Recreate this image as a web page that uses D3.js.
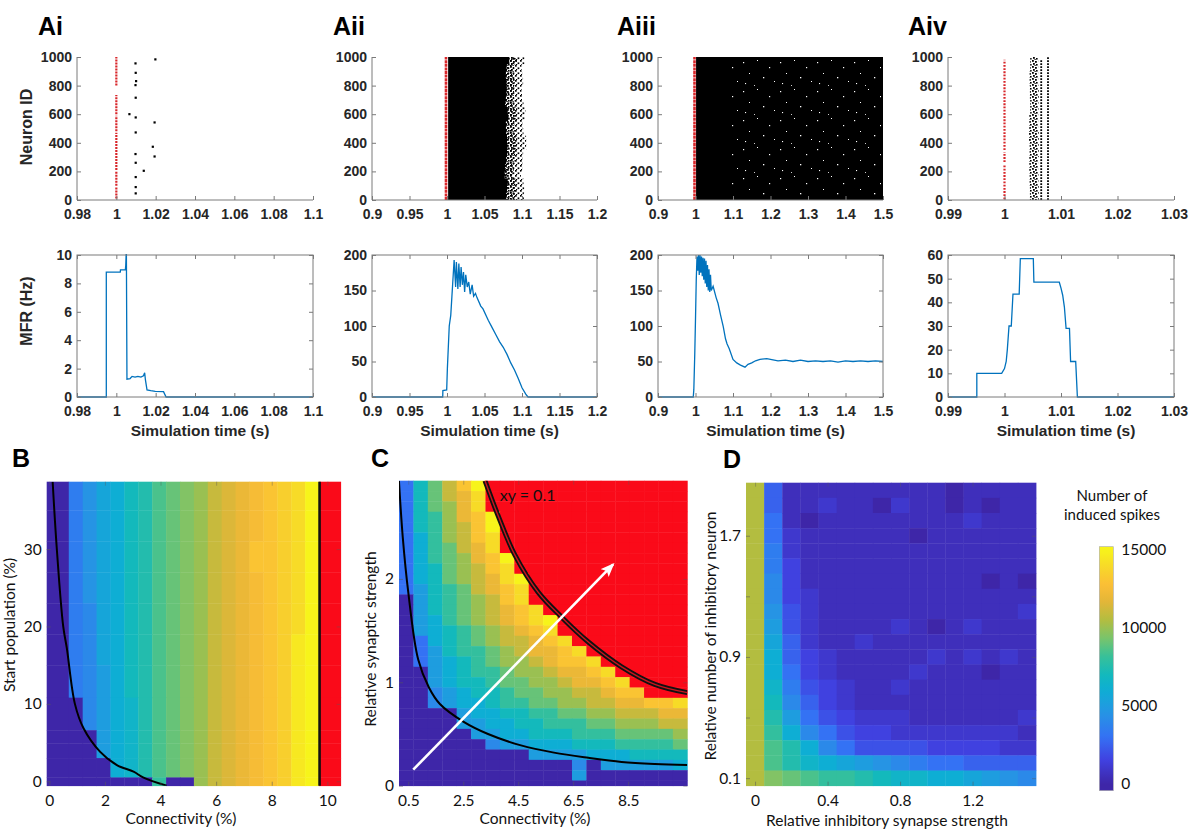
<!DOCTYPE html>
<html>
<head>
<meta charset="utf-8">
<script src="https://cdn.jsdelivr.net/npm/d3@7"></script>
<style>
  body { margin: 0; background: #fff; }
  svg { font-family: "Liberation Sans", Arial, sans-serif; }
  .tk { font-weight: bold; font-size: 14px; fill: #262626; }
  .lbl { font-weight: bold; font-size: 16px; fill: #262626; }
  .xlbl { font-weight: bold; font-size: 15.5px; fill: #262626; }
  .panel { font-weight: bold; font-size: 25px; fill: #000; }
  .hm { font-family: Lato, "Open Sans", sans-serif; font-size: 15.5px; fill: #111; }
</style>
</head>
<body>
<div id="fig"></div>
<script>
// 1: DATA
// --- row A: raster + mean firing rate
const neuronTicks = [0, 200, 400, 600, 800, 1000];
const aiTicks = [0.98, 1, 1.02, 1.04, 1.06, 1.08, 1.1];
const aiiTicks = [0.9, 0.95, 1, 1.05, 1.1, 1.15, 1.2];
const aiiiTicks = [0.9, 1, 1.1, 1.2, 1.3, 1.4, 1.5];
const aivTicks = [0.99, 1, 1.01, 1.02, 1.03];

// stimulated (start) neurons, as neuron ID ranges at t = 1 s
const aiRed = [[10, 90], [100, 200], [210, 470], [480, 590], [600, 735], [800, 1000]];
const aiiRed = [[0, 1000]];
const aiiiRed = [[0, 1000]];
const aivRed = [[5, 250], [265, 335], [350, 980]];

// Ai: induced spikes [time, neuron]
const aiSpikes = [[1.0097, 956], [1.0198, 984], [1.0098, 890], [1.0100, 832], [1.0097, 804],
  [1.0098, 716], [1.0066, 601], [1.0098, 578], [1.0194, 543], [1.0098, 473], [1.0185, 373],
  [1.0097, 322], [1.0194, 305], [1.0098, 261], [1.0139, 205], [1.0098, 161], [1.0098, 91], [1.0098, 47]];

// Aii: dense burst, right edge profile [neuron, end of solid block, end of scattered spikes]
const aiiEdge = [[0, 1.081, 1.104], [50, 1.077, 1.101], [100, 1.083, 1.105], [150, 1.079, 1.099],
  [200, 1.075, 1.098], [250, 1.080, 1.103], [300, 1.078, 1.099], [350, 1.082, 1.104],
  [400, 1.079, 1.107], [450, 1.081, 1.104], [500, 1.077, 1.100], [550, 1.080, 1.102],
  [600, 1.083, 1.106], [650, 1.079, 1.103], [700, 1.076, 1.101], [750, 1.081, 1.099],
  [800, 1.078, 1.100], [850, 1.080, 1.103], [900, 1.077, 1.098], [950, 1.082, 1.101], [1000, 1.084, 1.106]];
const aiiStart = 1.0015;
// Aiii: sustained activity block [t start, t end], start of the speckled part
const aiiiBlock = [1.0015, 1.5];
const aiiiSpeckleFrom = 1.09;
// Aiv: scattered zone [neuron, t from, t to] and two spike columns [t, neuron from, neuron to]
const aivZone = [[0, 1.0044, 1.0060], [100, 1.0046, 1.0061], [200, 1.0043, 1.0059], [300, 1.0045, 1.0060],
  [400, 1.0044, 1.0061], [500, 1.0043, 1.0060], [600, 1.0045, 1.0059], [700, 1.0046, 1.0061],
  [800, 1.0044, 1.0060], [900, 1.0045, 1.0059], [1000, 1.0046, 1.0060]];
const aivCols = [[1.0065, 0, 985], [1.0077, 0, 1000]];

// mean firing rate traces [time, Hz]
const aiMfr = [[0.98, 0], [0.9949, 0], [0.9949, 8.8], [1.002, 8.8], [1.0021, 8.95], [1.0046, 8.95],
  [1.0048, 9.3], [1.0051, 10.5], [1.0054, 1.25], [1.007, 1.3], [1.008, 1.45], [1.0095, 1.4],
  [1.011, 1.45], [1.0125, 1.4], [1.0138, 1.5], [1.0144, 1.7], [1.0148, 1.2], [1.0156, 0.5],
  [1.0175, 0.45], [1.0198, 0.4], [1.024, 0.38], [1.0253, 0], [1.1, 0]];
const aiiMfr = [[0.9, 0], [0.9943, 0], [0.9945, 9], [0.9996, 10], [1.0005, 40], [1.003, 100],
  [1.005, 115], [1.0076, 160], [1.0095, 193], [1.0115, 155], [1.0125, 190], [1.0145, 152],
  [1.0158, 188], [1.0175, 155], [1.0188, 183], [1.0205, 158], [1.022, 176], [1.0235, 148],
  [1.025, 172], [1.027, 155], [1.029, 162], [1.031, 145], [1.0335, 158], [1.0355, 142],
  [1.038, 146], [1.04, 140], [1.045, 128], [1.048, 124], [1.055, 108], [1.06, 98], [1.065, 88],
  [1.07, 78], [1.075, 70], [1.08, 60], [1.085, 48], [1.09, 38], [1.095, 26], [1.1, 13],
  [1.105, 4], [1.108, 0], [1.2, 0]];
const aiiiMfr = [[0.9, 0], [0.994, 0], [0.9955, 10], [0.998, 60], [1.0, 110], [1.002, 165],
  [1.004, 198], [1.006, 178], [1.008, 200], [1.01, 172], [1.012, 200], [1.014, 175], [1.016, 198],
  [1.018, 170], [1.02, 196], [1.022, 165], [1.024, 195], [1.026, 160], [1.028, 192], [1.03, 155],
  [1.032, 186], [1.034, 150], [1.036, 180], [1.038, 148], [1.04, 172], [1.042, 150], [1.047, 156],
  [1.055, 140], [1.06, 132], [1.067, 115], [1.074, 99], [1.08, 82], [1.084, 75], [1.09, 68],
  [1.1, 53], [1.11, 48], [1.12, 45], [1.132, 42], [1.14, 46], [1.15, 48], [1.16, 51], [1.172, 53],
  [1.19, 54], [1.2, 53], [1.22, 51], [1.24, 52], [1.26, 50], [1.28, 52], [1.3, 50], [1.32, 51],
  [1.34, 50], [1.36, 51], [1.38, 49], [1.4, 51], [1.42, 50], [1.44, 51], [1.46, 50], [1.48, 51], [1.5, 50]];
const aivMfr = [[0.99, 0], [0.9951, 0], [0.9951, 10], [0.9995, 10], [1.0, 12], [1.0003, 15],
  [1.0005, 20], [1.0008, 30], [1.0012, 30], [1.0015, 43.5], [1.0026, 43.5], [1.0028, 58.5],
  [1.0051, 58.5], [1.0052, 48.5], [1.0097, 48.5], [1.01, 46], [1.0103, 43], [1.0106, 38],
  [1.0109, 29], [1.0115, 29], [1.0117, 15], [1.0126, 15], [1.0129, 0], [1.03, 0]];
const aiMfrTicks = [0, 2, 4, 6, 8, 10];
const aiiMfrTicks = [0, 50, 100, 150, 200];
const aivMfrTicks = [0, 10, 20, 30, 40, 50, 60];

// --- heat maps: one char per cell, value = base32 digit * 500 spikes, "#" = runaway (red)
// B: connectivity bin edges (%), start population bin edges (%), rows listed top to bottom
const bConnEdges = [-0.094, 0.7, 1.2, 1.7, 2.2, 2.7, 3.2, 3.7, 4.2, 4.7, 5.2, 5.7, 6.2, 6.7, 7.2, 7.7, 8.2, 8.7, 9.2, 9.7, 10.48];
const bPopEdges = [-0.57, 0.5, 3.0, 4.9, 6.6, 10.8, 15, 19, 23, 27, 31, 35, 38.7];
const bRows = [
  "079bcefhijkmnopqrsu#",
  "079bcefhijkmnopqrsu#",
  "079bcefhijkmnoqqrsu#",
  "079bcefhijkmnopqrsu#",
  "078bcefhijkmnopqrsu#",
  "078bcefhijkmnopqrtu#",
  "078acefhijkmnopqrtu#",
  "008acdfhijkmnopqrtu#",
  "000acdfhijkmnopqrtu#",
  "000acdfhijkmnopqrtu#",
  "0000cdfhijkmnopqrtu#",
  "0000000g00kmnopqrtu#"
];
const bCurve = [[0.12, 38.7], [0.27, 30], [0.5, 20], [0.63, 17.2], [0.92, 10], [1.23, 6.85],
  [1.83, 3.8], [2.43, 2.1], [3.03, 1.24], [3.39, 0.47], [4.22, -0.57]];
const bLimit = 9.72;
const bXTicks = [0, 2, 4, 6, 8, 10];
const bYTicks = [0, 10, 20, 30];

// C: 20 connectivity columns, strength rows 2.9 .. 0 (top to bottom)
const cConn = [0.5, 1, 1.5, 2, 2.5, 3, 3.5, 4, 4.5, 5, 5.5, 6, 6.5, 7, 7.5, 8, 8.5, 9, 9.5, 10];
const cStrength = [2.9, 2.8, 2.7, 2.6, 2.5, 2.4, 2.3, 2.2, 2.1, 2.0, 1.9, 1.8, 1.7, 1.6, 1.5,
  1.4, 1.3, 1.2, 1.1, 1.0, 0.9, 0.8, 0.7, 0.6, 0.5, 0.4, 0.3, 0.2, 0.1, 0];
const cRows = [
  "6eimqu##############",
  "6eimos##############",
  "6eikos##############",
  "6egkoqu#############",
  "6egkmqu#############",
  "6cgkmqs#############",
  "6cgimos#############",
  "6cgikoqu############",
  "6ceikmqs############",
  "6ceikmosu###########",
  "6aegimoqs###########",
  "0aegikmqs###########",
  "0aegikmoqs##########",
  "0acgikmoqsu#########",
  "0acegikmoqs#########",
  "06cegikmmoqs########",
  "06aeggikmooqs#######",
  "06acegikkmoqqs######",
  "00aceggikkmooqs#####",
  "00aceegiikkmooqs####",
  "008aceegiikkmmoqq###",
  "008acceggiikkmmooqqs",
  "0000acceeggiikkmmmoo",
  "0000aacceegggiikkkmm",
  "00000aacceeegggiiiik",
  "0000008aaccceeeggggi",
  "000000000aaaaccceeee",
  "00000000000080aaaaac",
  "000000000000a0000000",
  "00000000000000000000"
];
const cLowCurve = [[0.16, 2.95], [0.3, 2.4], [0.5, 1.87], [0.86, 1.22], [1.25, 0.95], [1.65, 0.79],
  [2.5, 0.62], [3.4, 0.5], [4.6, 0.39], [5.8, 0.32], [7.05, 0.27], [8.26, 0.23], [9.47, 0.21], [10.65, 0.2]];
const cHighCurve = [[3.29, 2.95], [3.77, 2.61], [4.38, 2.23], [5.23, 1.87], [6.08, 1.63],
  [7.05, 1.39], [8.26, 1.15], [9.47, 0.98], [10.65, 0.9]];
const cArrow = [[0.68, 0.155], [7.95, 2.14]];
const cXTicks = [0.5, 2.5, 4.5, 6.5, 8.5];
const cYTicks = [0, 1, 2];

// D: inhibitory synapse strength columns, inhibitory neuron rows 2.0 .. 0.1 (top to bottom)
const dStrength = [0, 0.1, 0.2, 0.3, 0.4, 0.5, 0.6, 0.7, 0.8, 0.9, 1.0, 1.1, 1.2, 1.3, 1.4, 1.5];
const dNumber = [2.0, 1.9, 1.8, 1.7, 1.6, 1.5, 1.4, 1.3, 1.2, 1.1, 1.0, 0.9, 0.8, 0.7, 0.6, 0.5, 0.4, 0.3, 0.2, 0.1];
const dRows = [
  "l511111111101111",
  "l511211021101011",
  "l610111111112111",
  "l621111110111111",
  "l721111111111111",
  "l731111111111111",
  "l831111111111010",
  "l832111111111111",
  "l942111111111112",
  "la42111121012111",
  "lb52112111111111",
  "lc53211111212121",
  "lc63211112111011",
  "ld74321121111111",
  "le85321111111111",
  "lfa6432221111112",
  "lgc8643322222221",
  "lhfc864444333322",
  "lhfdcba987665555",
  "ljihggfeddccba98"
];
const dXTicks = [0, 0.4, 0.8, 1.2];
const dYTicks = [0.1, 0.5, 0.9, 1.3, 1.7];
const dYLabels = [0.1, 0.9, 1.7];
const cbTicks = [0, 5000, 10000, 15000];

// colour map (parula-like) over number of induced spikes
const parulaStops = [0, 1500, 3000, 4500, 6000, 7000, 8250, 9300, 10500, 11700, 12750, 13800, 15000];
const parulaColors = ["#3e26a8", "#4041e0", "#3472f4", "#2694e4", "#0eaed4", "#13b9bc", "#3bc196",
  "#78c46c", "#b3bd40", "#e4b638", "#fbbe36", "#f7d62a", "#f7f41a"];

// 2: SETUP
const W = 1200, H = 835;
const RED = "#fa0a19", RASTER_RED = "#d8262a", LINE_BLUE = "#0072bd", AX = "#7a7a7a";
const parula = d3.scaleLinear().domain(parulaStops).range(parulaColors).clamp(true);
const decode = ch => ch === "#" ? null : parseInt(ch, 32) * 500;
const fmt = d3.format("~g");

const svg = d3.select("#fig").append("svg").attr("width", W).attr("height", H);
const defs = svg.append("defs");

// spike speckle patterns
function speckle(id, w, h, dots, color) {
  const p = defs.append("pattern").attr("id", id).attr("patternUnits", "userSpaceOnUse")
    .attr("width", w).attr("height", h);
  dots.forEach(d => p.append("rect").attr("x", d[0]).attr("y", d[1])
    .attr("width", d[2]).attr("height", d[2]).attr("fill", color));
}
speckle("fuzz", 6, 6, [[0, 0, 1.8], [3, 1, 1.8], [1, 3, 1.8], [4, 4, 1.6], [2.5, 5, 1.2]], "#000");
speckle("fuzzDense", 4, 4, [[0, 0, 2], [2, 2, 2], [2.5, 0.2, 1.2]], "#000");
speckle("sparse", 5, 5, [[0, 0, 1.7], [2.6, 2.4, 1.7], [1, 4, 1.2]], "#000");
speckle("holes", 37, 29, [[3, 4, 1.2], [17, 2, 1], [29, 9, 1.2], [9, 15, 1], [23, 19, 1.3],
  [34, 23, 1], [5, 25, 1.1], [14, 27, 0.9]], "#fff");

function styleAxis(g, cls, tickColor) {
  g.attr("font-size", null).attr("font-family", null);
  g.selectAll("text").attr("class", cls);
  g.selectAll(".tick line").attr("stroke", tickColor);
  g.select(".domain").remove();
}

// 3: ROW A PANELS
const rasterTop = 57, rasterBottom = 200, mfrTop = 255, mfrBottom = 397;
const panels = [
  { label: "Ai", lx: 38, left: 77, right: 313, dom: [0.98, 1.1], ticks: aiTicks, red: aiRed, mfr: aiMfr, mfrMax: 10, mfrTicks: aiMfrTicks },
  { label: "Aii", lx: 333, left: 372, right: 597, dom: [0.9, 1.2], ticks: aiiTicks, red: aiiRed, mfr: aiiMfr, mfrMax: 200, mfrTicks: aiiMfrTicks },
  { label: "Aiii", lx: 617, left: 658, right: 883, dom: [0.9, 1.5], ticks: aiiiTicks, red: aiiiRed, mfr: aiiiMfr, mfrMax: 200, mfrTicks: aiiMfrTicks },
  { label: "Aiv", lx: 908, left: 948, right: 1174, dom: [0.99, 1.03], ticks: aivTicks, red: aivRed, mfr: aivMfr, mfrMax: 60, mfrTicks: aivMfrTicks }
];

panels.forEach((p, i) => {
  const x = d3.scaleLinear().domain(p.dom).range([p.left, p.right]);
  const y = d3.scaleLinear().domain([0, 1000]).range([rasterBottom, rasterTop]);
  const g = svg.append("g");
  const dense = i === 1 || i === 2;

  svg.append("text").attr("class", "panel").attr("x", p.lx).attr("y", 35).text(p.label);

  // spikes
  if (i === 0) {
    g.selectAll(".spk").data(aiSpikes).join("rect").attr("class", "spk")
      .attr("x", d => x(d[0]) - 1).attr("y", d => y(d[1]) - 1).attr("width", 2.2).attr("height", 2.2).attr("fill", "#000");
  }
  if (i === 1) {
    const solid = d3.area().curve(d3.curveStep).y(d => y(d[0])).x0(x(aiiStart)).x1(d => x(d[1]));
    const fuzz = d3.area().curve(d3.curveStep).y(d => y(d[0])).x0(d => x(d[1]) - 1).x1(d => x(d[2]));
    const near = d3.area().curve(d3.curveStep).y(d => y(d[0])).x0(d => x(d[1]) - 1).x1(d => x((d[1] + d[2]) / 2));
    g.append("path").datum(aiiEdge).attr("d", fuzz).attr("fill", "url(#sparse)");
    g.append("path").datum(aiiEdge).attr("d", near).attr("fill", "url(#fuzz)");
    g.append("path").datum(aiiEdge).attr("d", solid).attr("fill", "#000");
  }
  if (i === 2) {
    g.append("rect").attr("x", x(aiiiBlock[0])).attr("y", y(1000)).attr("width", x(aiiiBlock[1]) - x(aiiiBlock[0]))
      .attr("height", y(0) - y(1000)).attr("fill", "#000");
    g.append("rect").attr("x", x(aiiiSpeckleFrom)).attr("y", y(1000) + 3).attr("width", x(aiiiBlock[1]) - x(aiiiSpeckleFrom) - 2)
      .attr("height", y(0) - y(1000) - 6).attr("fill", "url(#holes)");
  }
  if (i === 3) {
    const zone = d3.area().curve(d3.curveStep).y(d => y(d[0])).x0(d => x(d[1])).x1(d => x(d[2]));
    g.append("path").datum(aivZone).attr("d", zone).attr("fill", "url(#fuzz)");
    g.selectAll(".col").data(aivCols).join("line").attr("class", "col")
      .attr("x1", d => x(d[0])).attr("x2", d => x(d[0])).attr("y1", d => y(d[1])).attr("y2", d => y(d[2]))
      .attr("stroke", "#000").attr("stroke-width", 1.8).attr("stroke-dasharray", "1.8,1.2");
  }

  // stimulated neurons in red at t = 1 s
  g.selectAll(".stim").data(p.red).join("line").attr("class", "stim")
    .attr("x1", x(1) - (dense ? 1 : 0)).attr("x2", x(1) - (dense ? 1 : 0))
    .attr("y1", d => y(d[0])).attr("y2", d => y(d[1]))
    .attr("stroke", RASTER_RED).attr("stroke-width", dense ? 2.6 : 2.2)
    .attr("stroke-dasharray", dense ? "3,0.6" : (i === 0 ? "2,1" : "1.8,1.4"));

  // raster axes (box off)
  g.append("line").attr("x1", p.left).attr("x2", p.left).attr("y1", rasterTop).attr("y2", rasterBottom).attr("stroke", AX);
  g.append("line").attr("x1", p.left).attr("x2", p.right).attr("y1", rasterBottom).attr("y2", rasterBottom).attr("stroke", AX);
  const gx = g.append("g").attr("transform", `translate(0,${rasterBottom})`)
    .call(d3.axisBottom(x).tickValues(p.ticks).tickSize(-4).tickSizeOuter(0).tickPadding(9).tickFormat(fmt));
  styleAxis(gx, "tk", AX);
  const gy = g.append("g").attr("transform", `translate(${p.left},0)`)
    .call(d3.axisLeft(y).tickValues(neuronTicks).tickSize(-4).tickSizeOuter(0).tickPadding(5).tickFormat(d3.format("d")));
  styleAxis(gy, "tk", AX);

  // mean firing rate
  const ym = d3.scaleLinear().domain([0, p.mfrMax]).range([mfrBottom, mfrTop]);
  const gm = svg.append("g");
  const clipId = "clipM" + i;
  defs.append("clipPath").attr("id", clipId).append("rect")
    .attr("x", p.left).attr("y", mfrTop - 1).attr("width", p.right - p.left).attr("height", mfrBottom - mfrTop + 2);
  gm.append("path").datum(p.mfr).attr("clip-path", `url(#${clipId})`)
    .attr("d", d3.line().x(d => x(d[0])).y(d => ym(d[1])))
    .attr("fill", "none").attr("stroke", LINE_BLUE).attr("stroke-width", 1.3);
  gm.append("rect").attr("x", p.left).attr("y", mfrTop).attr("width", p.right - p.left)
    .attr("height", mfrBottom - mfrTop).attr("fill", "none").attr("stroke", AX);
  const mx = gm.append("g").attr("transform", `translate(0,${mfrBottom})`)
    .call(d3.axisBottom(x).tickValues(p.ticks).tickSize(-4).tickSizeOuter(0).tickPadding(9).tickFormat(fmt));
  styleAxis(mx, "tk", AX);
  const mxt = gm.append("g").attr("transform", `translate(0,${mfrTop})`)
    .call(d3.axisTop(x).tickValues(p.ticks).tickSize(-4).tickSizeOuter(0).tickFormat(""));
  styleAxis(mxt, "tk", AX);
  const my = gm.append("g").attr("transform", `translate(${p.left},0)`)
    .call(d3.axisLeft(ym).tickValues(p.mfrTicks).tickSize(-4).tickSizeOuter(0).tickPadding(5));
  styleAxis(my, "tk", AX);
  const myr = gm.append("g").attr("transform", `translate(${p.right},0)`)
    .call(d3.axisRight(ym).tickValues(p.mfrTicks).tickSize(-4).tickSizeOuter(0).tickFormat(""));
  styleAxis(myr, "tk", AX);

  svg.append("text").attr("class", "xlbl").attr("text-anchor", "middle")
    .attr("x", (p.left + p.right) / 2 + 5).attr("y", 436).text("Simulation time (s)");
});

svg.append("text").attr("class", "lbl").attr("text-anchor", "middle")
  .attr("transform", "translate(32,127) rotate(-90)").text("Neuron ID");
svg.append("text").attr("class", "lbl").attr("text-anchor", "middle")
  .attr("transform", "translate(32,311) rotate(-90)").text("MFR (Hz)");

// 4: HEAT MAPS
function heatAxes(g, x, y, xTicks, yTicks, box, yFormat) {
  const ax = g.append("g").attr("transform", `translate(0,${box.bottom})`)
    .call(d3.axisBottom(x).tickValues(xTicks).tickSize(-4).tickSizeOuter(0).tickPadding(9).tickFormat(fmt));
  styleAxis(ax, "hm", "rgba(90,90,90,0.55)");
  const ay = g.append("g").attr("transform", `translate(${box.left},0)`)
    .call(d3.axisLeft(y).tickValues(yTicks).tickSize(-4).tickSizeOuter(0).tickPadding(5).tickFormat(yFormat || fmt));
  styleAxis(ay, "hm", "rgba(90,90,90,0.55)");
  const at = g.append("g").attr("transform", `translate(0,${box.top})`)
    .call(d3.axisTop(x).tickValues(xTicks).tickSize(-4).tickSizeOuter(0).tickFormat(""));
  styleAxis(at, "hm", "rgba(90,90,90,0.4)");
  const ar = g.append("g").attr("transform", `translate(${box.right},0)`)
    .call(d3.axisRight(y).tickValues(yTicks).tickSize(-4).tickSizeOuter(0).tickFormat(""));
  styleAxis(ar, "hm", "rgba(90,90,90,0.4)");
}
const cellFill = v => v === null ? RED : parula(v);

// B
const boxB = { left: 46.7, right: 340.7, top: 481.7, bottom: 785.7 };
const bx = d3.scaleLinear().domain([-0.094, 10.48]).range([boxB.left, boxB.right]);
const by = d3.scaleLinear().domain([-0.57, 38.7]).range([boxB.bottom, boxB.top]);
const bCells = [];
bRows.forEach((row, i) => {
  const r = bRows.length - 1 - i;
  [...row].forEach((ch, c) => bCells.push({ x0: bConnEdges[c], x1: bConnEdges[c + 1], y0: bPopEdges[r], y1: bPopEdges[r + 1], v: decode(ch) }));
});
const gB = svg.append("g");
defs.append("clipPath").attr("id", "clipB").append("rect")
  .attr("x", boxB.left).attr("y", boxB.top).attr("width", boxB.right - boxB.left).attr("height", boxB.bottom - boxB.top);
gB.selectAll("rect.cell").data(bCells).join("rect").attr("class", "cell")
  .attr("x", d => bx(d.x0)).attr("width", d => bx(d.x1) - bx(d.x0) + 0.4)
  .attr("y", d => by(d.y1)).attr("height", d => by(d.y0) - by(d.y1) + 0.4)
  .attr("fill", d => cellFill(d.v));
gB.append("path").datum(bCurve).attr("clip-path", "url(#clipB)")
  .attr("d", d3.line().curve(d3.curveCatmullRom).x(d => bx(d[0])).y(d => by(d[1])))
  .attr("fill", "none").attr("stroke", "#000").attr("stroke-width", 2);
gB.append("line").attr("x1", bx(bLimit)).attr("x2", bx(bLimit)).attr("y1", boxB.top).attr("y2", boxB.bottom)
  .attr("stroke", "#111").attr("stroke-width", 2.6);
heatAxes(gB, bx, by, bXTicks, bYTicks, boxB);
svg.append("text").attr("class", "panel").attr("x", 12).attr("y", 467).text("B");
svg.append("text").attr("class", "hm").attr("text-anchor", "middle").attr("x", 181).attr("y", 824).text("Connectivity (%)");
svg.append("text").attr("class", "hm").attr("text-anchor", "middle")
  .attr("transform", "translate(15,625) rotate(-90)").text("Start population (%)");

// C
const boxC = { left: 399, right: 687.3, top: 480.7, bottom: 785.7 };
const cBand = d3.scaleBand().domain(cConn).range([boxC.left, boxC.right]);
const cx = d3.scaleLinear().domain([0.162, 10.65]).range([boxC.left, boxC.right]);
const cy = d3.scaleLinear().domain([0, 2.95]).range([boxC.bottom, boxC.top]);
const cCells = [];
cRows.forEach((row, r) => {
  [...row].forEach((ch, c) => cCells.push({ k: cConn[c], s: cStrength[r], v: decode(ch) }));
});
const gC = svg.append("g");
defs.append("clipPath").attr("id", "clipC").append("rect")
  .attr("x", boxC.left).attr("y", boxC.top).attr("width", boxC.right - boxC.left).attr("height", boxC.bottom - boxC.top);
gC.selectAll("rect.cell").data(cCells).join("rect").attr("class", "cell")
  .attr("x", d => cBand(d.k)).attr("width", cBand.bandwidth() + 0.4)
  .attr("y", d => cy(Math.min(2.95, d.s + 0.05)))
  .attr("height", d => cy(Math.max(0, d.s - 0.05)) - cy(Math.min(2.95, d.s + 0.05)) + 0.4)
  .attr("fill", d => cellFill(d.v));
const cLine = d3.line().curve(d3.curveCatmullRom).x(d => cx(d[0])).y(d => cy(d[1]));
gC.append("path").datum(cLowCurve).attr("clip-path", "url(#clipC)").attr("d", cLine)
  .attr("fill", "none").attr("stroke", "#000").attr("stroke-width", 2);
gC.append("path").datum(cHighCurve).attr("clip-path", "url(#clipC)").attr("d", cLine)
  .attr("fill", "none").attr("stroke", "#111").attr("stroke-width", 5);
gC.append("path").datum(cHighCurve).attr("clip-path", "url(#clipC)").attr("d", cLine)
  .attr("fill", "none").attr("stroke", "#c8141e").attr("stroke-width", 1.4);
defs.append("marker").attr("id", "arrowW").attr("markerUnits", "userSpaceOnUse")
  .attr("viewBox", "0 -6 14 12").attr("refX", 12).attr("refY", 0)
  .attr("markerWidth", 14).attr("markerHeight", 12).attr("orient", "auto")
  .append("path").attr("d", "M0,-5.5L14,0L0,5.5L3,0Z").attr("fill", "#fff");
gC.append("line").attr("x1", cx(cArrow[0][0])).attr("y1", cy(cArrow[0][1]))
  .attr("x2", cx(cArrow[1][0])).attr("y2", cy(cArrow[1][1]))
  .attr("stroke", "#fff").attr("stroke-width", 2.6).attr("marker-end", "url(#arrowW)");
gC.append("text").attr("class", "hm").attr("x", cx(3.83)).attr("y", cy(2.75)).style("font-size", "16px").text("xy = 0.1");
heatAxes(gC, cx, cy, cXTicks, cYTicks, boxC);
svg.append("text").attr("class", "panel").attr("x", 371).attr("y", 467).text("C");
svg.append("text").attr("class", "hm").attr("text-anchor", "middle").attr("x", 535).attr("y", 824).text("Connectivity (%)");
svg.append("text").attr("class", "hm").attr("text-anchor", "middle")
  .attr("transform", "translate(376,639) rotate(-90)").text("Relative synaptic strength");

// D
const boxD = { left: 746, right: 1036, top: 482.7, bottom: 785.7 };
const dx = d3.scaleLinear().domain([-0.05, 1.55]).range([boxD.left, boxD.right]);
const dy = d3.scaleLinear().domain([0.05, 2.05]).range([boxD.bottom, boxD.top]);
const dCells = [];
dRows.forEach((row, r) => {
  [...row].forEach((ch, c) => dCells.push({ s: dStrength[c], n: dNumber[r], v: decode(ch) }));
});
const gD = svg.append("g");
gD.selectAll("rect.cell").data(dCells).join("rect").attr("class", "cell")
  .attr("x", d => dx(d.s - 0.05)).attr("width", dx(0.1) - dx(0) + 0.4)
  .attr("y", d => dy(d.n + 0.05)).attr("height", dy(0) - dy(0.1) + 0.4)
  .attr("fill", d => cellFill(d.v));
heatAxes(gD, dx, dy, dXTicks, dYTicks, boxD, d => dYLabels.includes(d) ? fmt(d) : "");
svg.append("text").attr("class", "panel").attr("x", 723).attr("y", 468).text("D");
svg.append("text").attr("class", "hm").attr("text-anchor", "middle").attr("x", 887).attr("y", 826).text("Relative inhibitory synapse strength");
svg.append("text").attr("class", "hm").attr("text-anchor", "middle")
  .attr("transform", "translate(716,636) rotate(-90)").text("Relative number of inhibitory neuron");

// 5: COLOUR BAR
const cb = { left: 1099.3, right: 1113.3, top: 546.7, bottom: 790.7 };
const cbScale = d3.scaleLinear().domain([-470, 15200]).range([cb.bottom, cb.top]);
const grad = defs.append("linearGradient").attr("id", "cbGrad").attr("x1", 0).attr("x2", 0).attr("y1", 1).attr("y2", 0);
d3.range(0, 41).forEach(i => {
  const v = cbScale.invert(cb.bottom - (cb.bottom - cb.top) * i / 40);
  grad.append("stop").attr("offset", i / 40).attr("stop-color", parula(v));
});
svg.append("rect").attr("x", cb.left).attr("y", cb.top).attr("width", cb.right - cb.left)
  .attr("height", cb.bottom - cb.top).attr("fill", "url(#cbGrad)").attr("stroke", "#aaa").attr("stroke-width", 0.6);
const gcb = svg.append("g").attr("transform", `translate(${cb.right},0)`)
  .call(d3.axisRight(cbScale).tickValues(cbTicks).tickSize(0).tickPadding(8).tickFormat(d3.format("d")));
styleAxis(gcb, "hm", "none");
svg.append("text").attr("class", "hm").attr("text-anchor", "middle").attr("x", 1112).attr("y", 501)
  .style("font-size", "15px").text("Number of");
svg.append("text").attr("class", "hm").attr("text-anchor", "middle").attr("x", 1112).attr("y", 520)
  .style("font-size", "15px").text("induced spikes");
</script>
</body>
</html>
